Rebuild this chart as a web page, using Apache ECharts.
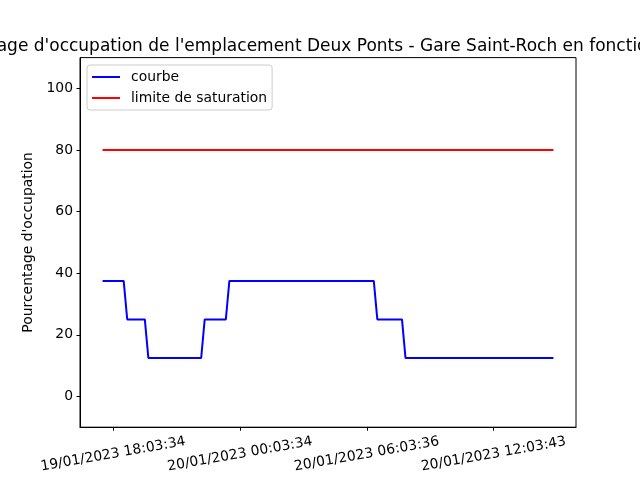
<!DOCTYPE html>
<html>
<head>
  <meta charset="UTF-8">
  <title>Pourcentage d'occupation</title>
  <script src="https://cdn.jsdelivr.net/npm/echarts@6/dist/echarts.min.js"></script>
  <style>
    html, body { margin: 0; padding: 0; background: #fff; }
    #chart { width: 640px; height: 480px; }
  </style>
</head>
<body>
<div id="chart"></div>
<script type="text/javascript">
  // hours after 19/01/2023 18:03:34
  var tickHours = [0, 6, 12, 18];
  var tickLabels = ['19/01/2023 18:03:34', '20/01/2023 00:03:34', '20/01/2023 06:03:36', '20/01/2023 12:03:43'];
  var yTicks = [0, 20, 40, 60, 80, 100];

  var curveHours = [-0.5, 0.5, 0.667, 1.5, 1.667, 4.167, 4.333, 5.333, 5.5, 12.333, 12.5, 13.667, 13.833, 20.833];
  var curveValues = [37.5, 37.5, 25, 25, 12.5, 12.5, 25, 25, 37.5, 37.5, 25, 25, 12.5, 12.5];
  var limitHours = [-0.5, 20.833];
  var limitValues = [80, 80];

  var font = 'DejaVu Sans';
  var span = curveHours[curveHours.length - 1] - curveHours[0];
  var xMin = curveHours[0] - span * 0.05;
  var xMax = curveHours[curveHours.length - 1] + span * 0.05;

  function pairs(xs, ys) {
    return xs.map(function (x, i) { return [x, ys[i]]; });
  }

  var chart = echarts.init(document.getElementById('chart'));
  chart.setOption({
    animation: false,
    backgroundColor: '#fff',
    title: {
      text: "Pourcentage d'occupation de l'emplacement Deux Ponts - Gare Saint-Roch en fonction du temps",
      left: 328,
      textAlign: 'center',
      top: 33,
      textStyle: { fontFamily: font, fontSize: 17, fontWeight: 'normal', color: '#000' }
    },
    legend: {
      data: ['courbe', 'limite de saturation'],
      orient: 'vertical',
      left: 87,
      top: 65,
      padding: [5, 5, 5, 5],
      itemWidth: 28,
      itemHeight: 2,
      itemGap: 7,
      icon: 'rect',
      backgroundColor: 'rgba(255,255,255,0.8)',
      borderColor: '#cccccc',
      borderWidth: 1,
      borderRadius: 3,
      textStyle: { fontFamily: font, fontSize: 13.9, color: '#000', padding: [0, 0, 0, 6] }
    },
    grid: {
      left: 80, right: 64, top: 57.6, bottom: 52.8,
      show: true, borderColor: '#000', borderWidth: 1
    },
    xAxis: {
      type: 'value',
      min: xMin,
      max: xMax,
      splitLine: { show: false },
      axisLine: { show: true, onZero: false, lineStyle: { color: '#000', width: 1 } },
      axisTick: { show: true, length: 3.5, lineStyle: { color: '#000' }, customValues: tickHours },
      axisLabel: {
        customValues: tickHours,
        rotate: 10,
        align: 'center',
        verticalAlign: 'middle',
        margin: 27,
        fontFamily: font,
        fontSize: 13.9,
        color: '#000',
        formatter: function (v) {
          var i = tickHours.indexOf(v);
          return i >= 0 ? tickLabels[i] : '';
        }
      }
    },
    yAxis: {
      type: 'value',
      min: -10,
      max: 110,
      name: "Pourcentage d'occupation",
      nameLocation: 'middle',
      nameGap: 42,
      nameTextStyle: { fontFamily: font, fontSize: 13.9, color: '#000' },
      splitLine: { show: false },
      axisLine: { show: true, onZero: false, lineStyle: { color: '#000', width: 1 } },
      axisTick: { show: true, length: 3.5, lineStyle: { color: '#000' }, customValues: yTicks },
      axisLabel: {
        customValues: yTicks,
        margin: 7,
        fontFamily: font,
        fontSize: 13.9,
        color: '#000'
      }
    },
    series: [
      {
        name: 'courbe',
        type: 'line',
        data: pairs(curveHours, curveValues),
        symbol: 'none',
        itemStyle: { color: '#0000ff' },
        lineStyle: { color: '#0000ff', width: 2 }
      },
      {
        name: 'limite de saturation',
        type: 'line',
        data: pairs(limitHours, limitValues),
        symbol: 'none',
        itemStyle: { color: '#ff0000' },
        lineStyle: { color: '#ff0000', width: 2 }
      }
    ]
  });
</script>
</body>
</html>
